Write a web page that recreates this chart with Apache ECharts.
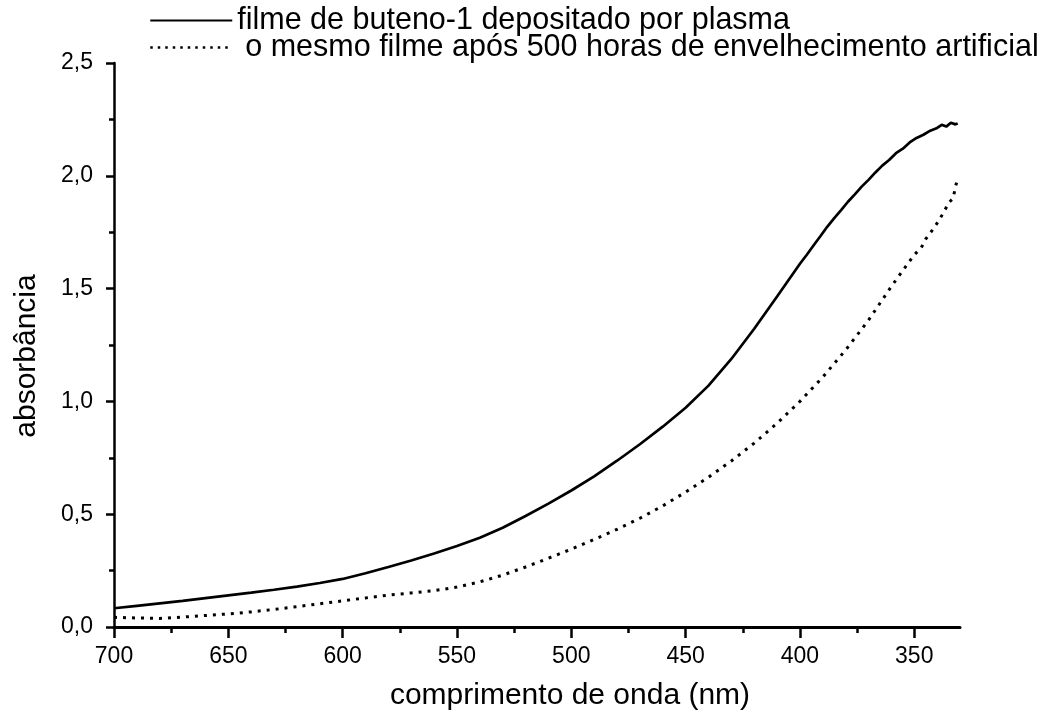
<!DOCTYPE html>
<html>
<head>
<meta charset="utf-8">
<script src="https://cdn.jsdelivr.net/npm/echarts@6/dist/echarts.min.js"></script>
<style>
html,body{margin:0;padding:0;background:#fff;}
#chart{width:1045px;height:719px;}
</style>
</head>
<body>
<div id="chart"></div>
<script>
// ---- data ----
const seriesNames = [
  'filme de buteno-1 depositado por plasma',
  'o mesmo filme após 500 horas de envelhecimento artificial'
];
const wlSolid = [700,690,680,670,660,650,640,630,620,610,600,590,580,570,560,550,540,530,520,510,500,490,480,470,460,450,440,430,420,410,
  400,397,394,391,388,385,382,379,376,373,370,367,364,361,358,355,352,349,346,343,340,338,336,334,332,331];
const absSolid = [0.083,0.094,0.105,0.116,0.128,0.140,0.152,0.165,0.179,0.195,0.213,0.238,0.266,0.295,0.326,0.359,0.396,0.440,0.492,0.547,0.605,0.668,0.737,0.810,0.888,0.972,1.070,1.188,1.322,1.465,
  1.610,1.650,1.692,1.733,1.775,1.812,1.848,1.885,1.918,1.952,1.982,2.015,2.045,2.070,2.100,2.120,2.148,2.168,2.182,2.200,2.212,2.226,2.218,2.235,2.228,2.232];
const wlDotted = [700,690,680,670,660,650,640,630,620,610,600,590,580,570,560,550,540,530,520,510,500,490,480,470,460,450,440,430,420,410,400,390,380,370,365,360,355,350,347,345,342,340,337,335,333,332,331];
const absDotted = [0.043,0.040,0.038,0.044,0.051,0.058,0.067,0.078,0.090,0.103,0.116,0.129,0.141,0.151,0.161,0.177,0.200,0.230,0.266,0.305,0.345,0.388,0.433,0.482,0.537,0.598,0.664,0.736,0.815,0.903,1.000,1.108,1.228,1.360,1.435,1.510,1.580,1.650,1.680,1.720,1.760,1.790,1.840,1.880,1.900,1.950,1.990];
const xMajorTicks = [700,650,600,550,500,450,400,350];
const xMinorTicks = [675,625,575,525,475,425,375];
const xTitle = 'comprimento de onda (nm)';
const yTitle = 'absorbância';

const FONT = 'Liberation Sans, Arial, Helvetica, sans-serif';
const chart = echarts.init(document.getElementById('chart'), null, {renderer:'canvas'});

function pairs(xs, ys){ return xs.map((x,i)=>[x, ys[i]]); }

const option = {
  backgroundColor: '#fff',
  animation: false,
  textStyle: {fontFamily: FONT, color: '#000'},
  legend: {
    orient: 'vertical',
    left: 144,
    top: 0,
    itemWidth: 82,
    itemHeight: 14,
    itemGap: -4,
    selectedMode: false,
    textStyle: {fontFamily: FONT, fontSize: 30.5, color: '#000', lineHeight: 30},
    data: [
      {name: seriesNames[0], itemStyle: {opacity: 0}, lineStyle: {width: 2, type: 'solid', color: '#000'}},
      {name: seriesNames[1], itemStyle: {opacity: 0}, lineStyle: {width: 2.5, type: [2.5, 5], color: '#000'},
       textStyle: {padding: [0, 0, 0, 8]}}
    ]
  },
  grid: {left: 114, right: 85, top: 63, bottom: 92, containLabel: false},
  xAxis: [{
    type: 'value',
    min: 330, max: 700,
    inverse: true,
    position: 'bottom',
    name: xTitle,
    nameLocation: 'middle',
    nameGap: 54,
    nameTextStyle: {fontFamily: FONT, fontSize: 30, color: '#000', padding: [0, 0, 0, 66]},
    axisLine: {show: true, onZero: false, lineStyle: {color: '#000', width: 3}},
    axisTick: {show: true, inside: false, length: 11, customValues: xMajorTicks, lineStyle: {color: '#000', width: 2.5}},
    axisLabel: {show: true, margin: 18, fontSize: 23, color: '#000', fontFamily: FONT, customValues: xMajorTicks},
    splitLine: {show: false},
    minorTick: {show: false}
  }, {
    type: 'value',
    min: 330, max: 700,
    inverse: true,
    position: 'bottom',
    offset: 0,
    axisLine: {show: false, onZero: false},
    axisTick: {show: true, inside: false, length: 6, customValues: xMinorTicks, lineStyle: {color: '#000', width: 2.5}},
    axisLabel: {show: false},
    splitLine: {show: false}
  }],
  yAxis: {
    type: 'value',
    min: 0, max: 2.5, interval: 0.5,
    name: yTitle,
    nameLocation: 'middle',
    nameGap: 72,
    nameRotate: 90,
    nameTextStyle: {fontFamily: FONT, fontSize: 30, color: '#000', padding: [0, 22, 0, 0]},
    axisLine: {show: true, onZero: false, lineStyle: {color: '#000', width: 2.5}},
    axisTick: {show: true, inside: false, length: 8, lineStyle: {color: '#000', width: 2.5}},
    minorTick: {show: true, splitNumber: 2, length: 5, lineStyle: {color: '#000', width: 2.5}},
    axisLabel: {margin: 21, fontSize: 23, color: '#000', fontFamily: FONT,
      formatter: v => v.toFixed(1).replace('.', ',')},
    splitLine: {show: false}
  },
  series: [{
    name: seriesNames[0],
    type: 'line',
    xAxisIndex: 0,
    showSymbol: false,
    symbol: 'none',
    smooth: false,
    lineStyle: {color: '#000', width: 2.7, type: 'solid'},
    itemStyle: {color: '#000'},
    data: pairs(wlSolid, absSolid)
  }, {
    name: seriesNames[1],
    type: 'line',
    xAxisIndex: 0,
    showSymbol: false,
    symbol: 'none',
    smooth: false,
    lineStyle: {color: '#000', width: 3, type: [3, 6]},
    itemStyle: {color: '#000'},
    data: pairs(wlDotted, absDotted)
  }]
};
chart.setOption(option);
</script>
</body>
</html>
